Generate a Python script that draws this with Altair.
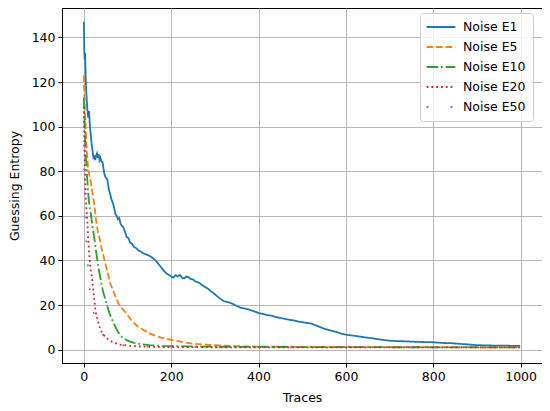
import altair as alt
import pandas as pd

series_names = ["Noise E1", "Noise E5", "Noise E10", "Noise E20", "Noise E50"]
series_colors = ["#1f77b4", "#ff7f0e", "#2ca02c", "#d62728", "#9467bd"]
series_dashes = [[1, 0], [6.6, 2.9], [11.5, 2.9, 1.8, 2.9], [1.8, 3.0], [1.8, 22.2]]

e1_x = [0, 1, 2, 3, 4, 5, 6, 8, 10, 12, 14, 16, 18, 20, 22, 24, 26, 28, 30, 32, 34, 36, 38, 40,
        43, 46, 48, 51, 54, 57, 60, 63, 66, 69, 72, 75, 78, 81, 84, 87, 90, 94, 98, 102, 106,
        110, 115, 120, 125, 130, 135, 140, 145, 150, 155, 160, 165, 170, 175, 180, 185, 190,
        195, 200, 205, 210, 215, 220, 225, 230, 235, 240, 245, 250, 255, 260, 265, 270, 275,
        280, 285, 290, 295, 300, 310, 320, 330, 340, 350, 360, 370, 380, 390, 400, 410, 420,
        430, 440, 450, 460, 470, 480, 490, 500, 510, 520, 530, 540, 550, 560, 570, 580, 590,
        600, 620, 640, 660, 680, 700, 720, 740, 760, 780, 800, 820, 840, 860, 880, 900, 920,
        940, 960, 980, 999]
e1_y = [147, 134, 130, 133, 124, 118, 114, 108, 104, 107, 100, 96, 92, 89, 86, 86.5, 85, 87, 88,
        86, 87.5, 85, 86, 84.5, 84, 80, 78, 77, 76, 72, 70, 67.5, 66, 64, 61, 60, 58.5, 59,
        56.5, 55.5, 55, 53, 50.5, 50, 48, 47.5, 46, 45.5, 44.5, 44, 43.3, 42.9, 42.5, 42.1, 41.5,
        40.7, 39.8, 38.6, 37.4, 36.1, 35, 34, 33.5, 32.8, 32.3, 33.4, 32.8, 33.5, 32.2, 32, 32.8,
        32.4, 31.6, 31.5, 30.6, 30.3, 29.8, 29, 28.4, 27.8, 27.2, 26.3, 25.6, 24.8, 23.2, 21.8,
        21.3, 20.6, 19.6, 18.7, 18.4, 17.8, 17.2, 16.4, 16.0, 15.5, 15.2, 14.6, 14.2, 13.8,
        13.4, 13.1, 12.6, 12.3, 12.0, 11.7, 11.0, 10.2, 9.4, 8.8, 8.4, 7.8, 7.1, 6.7, 6.2, 5.6,
        5.1, 4.5, 4.0, 3.8, 3.7, 3.5, 3.4, 3.3, 3.0, 2.9, 2.6, 2.3, 2.0, 1.9, 1.8, 1.8, 1.7, 1.7]

e5_x = [0, 2, 4, 6, 8, 10, 13, 16, 20, 24, 28, 32, 36, 40, 45, 50, 55, 60, 65, 70, 75, 80, 85,
        92, 100, 108, 115, 125, 135, 145, 160, 175, 190, 210, 230, 250, 280, 310, 340, 380,
        450, 550, 700, 850, 999]
e5_y = [123, 110, 100, 92, 86, 81, 78, 75, 70, 65, 58, 53, 50, 46, 42, 38, 34, 30, 27.5, 25,
        22.5, 20.5, 19, 17.5, 15.5, 13.5, 12, 10, 9, 7.8, 6.5, 5.5, 4.8, 4, 3.2, 2.6, 2.2, 1.9,
        1.6, 1.4, 1.3, 1.2, 1.1, 1.1, 1.0]

e10_x = [0, 2, 4, 6, 8, 10, 13, 16, 20, 24, 28, 31, 35, 39, 44, 50, 56, 62, 68, 74, 80, 88,
         100, 115, 130, 150, 180, 220, 300, 400, 600, 999]
e10_y = [113, 100, 90, 82, 76, 70, 64, 61, 55, 50, 44, 40, 35, 31, 26, 22, 18, 14.5, 12, 9.5,
         7.5, 5.5, 4, 3, 2.5, 2, 1.7, 1.5, 1.3, 1.2, 1.1, 1.0]

e20_x = [0, 1, 2, 3, 4, 6, 8, 10, 12, 15, 18, 20, 24, 27, 32, 37, 43, 50, 60, 70, 81, 100, 130,
         170, 250, 400, 999]
e20_y = [109, 95, 84, 76, 70, 63, 58, 50, 43, 37, 33, 30, 22, 17, 13, 9.5, 7, 5.5, 4, 3, 2.3,
         1.8, 1.4, 1.2, 1.1, 1.0, 1.0]

e50_x = [0, 1, 2, 3, 4, 6, 8, 10, 13, 16, 20, 25, 30, 36, 43, 50, 60, 80, 100, 150, 250, 999]
e50_y = [92, 80, 70, 62, 56, 48, 42, 35, 28, 22, 18, 15, 12, 9, 7, 5, 3.5, 2.2, 1.7, 1.3, 1.1,
         1.0]

xs = [e1_x, e5_x, e10_x, e20_x, e50_x]
ys = [e1_y, e5_y, e10_y, e20_y, e50_y]
rows = []
for i, (name, sx, sy) in enumerate(zip(series_names, xs, ys)):
    for k, (a, b) in enumerate(zip(sx, sy)):
        rows.append({"series": name, "traces": a, "ge": b, "s": i, "k": k})
df = pd.DataFrame(rows)

x_ticks = [0, 200, 400, 600, 800, 1000]
y_ticks = [0, 20, 40, 60, 80, 100, 120, 140]

chart = alt.Chart(df).mark_line(strokeWidth=1.8, clip=True).encode(
    x=alt.X("traces:Q", title="Traces",
            scale=alt.Scale(domain=[-50, 1049], nice=False, zero=False),
            axis=alt.Axis(values=x_ticks, format="d")),
    y=alt.Y("ge:Q", title="Guessing Entropy",
            scale=alt.Scale(domain=[-6, 153.2], nice=False, zero=False),
            axis=alt.Axis(values=y_ticks, format="d")),
    color=alt.Color("series:N", scale=alt.Scale(domain=series_names, range=series_colors),
                    legend=alt.Legend(title=None, orient="none", legendX=358, legendY=5,
                                      symbolType="M-2.4,0H2.4", symbolSize=144,
                                      symbolStrokeWidth=1.8, symbolOffset=7,
                                      labelFontSize=12.5,
                                      labelFont="DejaVu Sans", labelColor="#000000",
                                      fillColor="rgba(255,255,255,0.8)",
                                      strokeColor="#cccccc", cornerRadius=3,
                                      padding=7, rowPadding=6.0, labelOffset=15)),
    strokeDash=alt.StrokeDash("series:N",
                              scale=alt.Scale(domain=series_names, range=series_dashes),
                              legend=None),
    order=alt.Order("k:Q"),
).properties(
    width=480, height=355,
    autosize=alt.AutoSizeParams(type="none"),
    padding={"left": 54, "top": 0, "right": 0, "bottom": 48},
).configure_axis(
    labelFont="DejaVu Sans", labelFontSize=12.5, labelColor="#000000",
    titleFont="DejaVu Sans", titleFontSize=12.5, titleFontWeight="normal", titleColor="#000000",
    tickColor="#000000", tickSize=4, tickWidth=1, domainColor="#000000", domainWidth=1,
    gridColor="#b0b0b0", gridWidth=0.9, labelPadding=3,
).configure_axisX(titlePadding=9).configure_axisY(titlePadding=10).configure_view(
    stroke="#000000", strokeWidth=1
)

chart.save("out.html", embed_options={"renderer": "svg", "actions": False})
